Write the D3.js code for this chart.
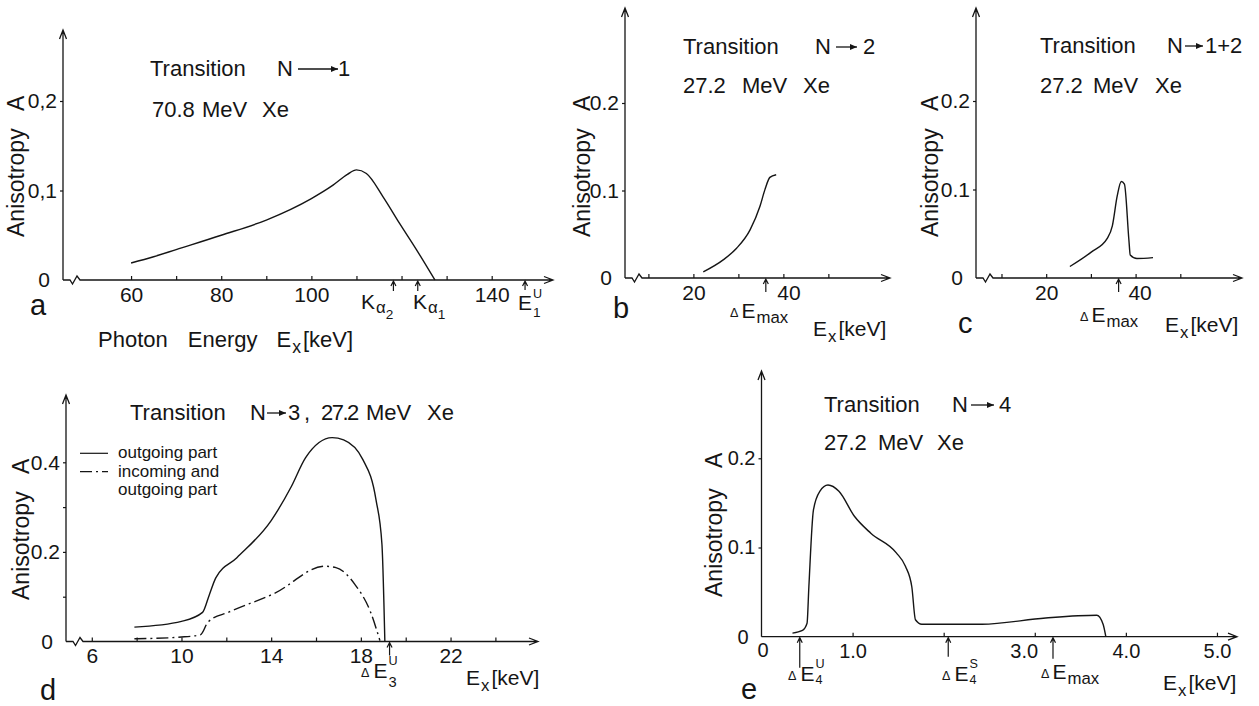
<!DOCTYPE html>
<html>
<head>
<meta charset="utf-8">
<script src="https://cdn.jsdelivr.net/npm/d3@7"></script>
<style>
  body { margin: 0; background: #fff; }
  svg { display: block; }
  text { font-family: "Liberation Sans", Arial, sans-serif; fill: #151515; }
</style>
</head>
<body>
<div id="chart"></div>
<script>
// values (anisotropy A vs photon energy Ex in keV)

// a: transition N -> 1, 70.8 MeV Xe
const aEnergy = [60, 65, 70, 80, 90, 100, 104.8, 108, 110, 112.2, 115.9, 119.6, 123.3, 127.4];
const aAniso  = [0.019, 0.026, 0.034, 0.050, 0.067, 0.091, 0.106, 0.118, 0.123, 0.119, 0.093, 0.063, 0.034, 0];
const aTicksX = [60, 70, 80, 90, 100, 110, 120, 130, 140];
const aTickLabelsX = ["60", "", "80", "", "100", "", "", "", "140"];
const aTicksY = [0, 0.1, 0.2];
const aTickLabelsY = ["0", "0,1", "0,2"];
const aMarks = [118.2, 123.6, 147.4];   // K alpha2, K alpha1, E1U

// b: transition N -> 2, 27.2 MeV Xe
const bEnergy = [22.2, 26.7, 29.6, 32.6, 34.8, 35.9, 37.0, 38.4];
const bAniso  = [0.007, 0.021, 0.034, 0.055, 0.082, 0.101, 0.115, 0.118];
const bTicksX = [10, 20, 30, 40, 50];
const bTickLabelsX = ["", "20", "", "40", ""];
const bTicksY = [0, 0.1, 0.2];
const bTickLabelsY = ["0", "0.1", "0.2"];
const bMarks = [36.1];                  // dE max

// c: transition N -> 1+2, 27.2 MeV Xe
const cEnergy = [25.3, 30.0, 33.7, 34.8, 35.9, 36.8, 37.5, 38.5, 38.8, 40.3, 43.9];
const cAniso  = [0.013, 0.029, 0.045, 0.059, 0.093, 0.109, 0.106, 0.043, 0.026, 0.022, 0.023];
const cTicksX = [10, 20, 30, 40, 50];
const cTickLabelsX = ["", "20", "", "40", ""];
const cTicksY = [0, 0.1, 0.2];
const cTickLabelsY = ["0", "0.1", "0.2"];
const cMarks = [36.2];

// d: transition N -> 3, 27.2 MeV Xe
const dEnergy = [7.9, 10.0, 10.94, 11.24, 11.53, 12.47, 14.0, 14.9, 15.53, 16.72, 17.23, 18.09, 18.68, 18.94, 19.07];
const dOutgoing = [0.032, 0.045, 0.065, 0.104, 0.142, 0.187, 0.27, 0.346, 0.41, 0.455, 0.45, 0.406, 0.315, 0.217, 0];
const dEnergyIn = [7.9, 10.0, 10.85, 11.19, 12.13, 14.17, 16.38, 16.89, 17.74, 18.43, 18.85];
const dInOut    = [0.006, 0.010, 0.015, 0.044, 0.066, 0.108, 0.168, 0.165, 0.127, 0.066, 0.002];
const dTicksX = [6, 8, 10, 12, 14, 16, 18, 20, 22, 24];
const dTickLabelsX = ["6", "", "10", "", "14", "", "18", "", "22", ""];
const dTicksY = [0, 0.1, 0.2, 0.3, 0.4];
const dTickLabelsY = ["0", "", "0.2", "", "0.4"];
const dMarks = [19.28];

// e: transition N -> 4, 27.2 MeV Xe
const eEnergy = [0.34, 0.45, 0.50, 0.52, 0.57, 0.64, 0.73, 0.85, 1.02, 1.20, 1.48, 1.58, 1.65, 1.69, 1.76, 2.42, 3.12, 3.68, 3.75, 3.78];
const eAniso  = [0.004, 0.007, 0.015, 0.056, 0.142, 0.163, 0.170, 0.163, 0.135, 0.116, 0.094, 0.079, 0.056, 0.019, 0.014, 0.014, 0.021, 0.024, 0.014, 0];
const eTicksX = [1, 2, 3, 4, 5];
const eTickLabelsX = ["1.0", "", "3.0", "4.0", "5.0"];
const eTicksY = [0, 0.1, 0.2];
const eTickLabelsY = ["0", "0.1", "0.2"];
const eMarks = [0.42, 2.05, 3.20];

const INK = "#151515";
const svg = d3.select("#chart").append("svg").attr("width", 1259).attr("height", 706);

// text made of pieces: sub/superscripts via dy, keep = do not advance
function rich(g, x, y, parts, size) {
  let cx = x;
  parts.forEach(p => {
    const pos = cx + (p.gap || 0);
    const t = g.append("text").attr("x", pos).attr("y", y + (p.dy || 0))
      .attr("font-size", size * (p.s || 1)).text(p.t);
    if (!p.keep) cx = pos + t.node().getComputedTextLength();
  });
}

function arrowRight(g, x1, x2, y) {
  g.append("path").attr("d", `M${x1},${y}H${x2}`).attr("stroke", INK).attr("stroke-width", 1.3);
  g.append("path").attr("d", `M${x2 - 7},${y - 3}L${x2},${y}L${x2 - 7},${y + 3}Z`).attr("fill", INK);
}

function drawPanel(p) {
  const g = svg.append("g");
  const x = d3.scaleLinear().domain(p.xDomain).range(p.xRange);
  const y = d3.scaleLinear().domain([0, 0.1]).range([p.y0, p.y0 - p.unit]);
  const x0 = p.xRange[0], x1 = p.xRange[1];

  // x axis: ticks pointing up, labels below
  const ax = g.append("g").attr("transform", `translate(0,${p.y0})`)
    .call(d3.axisBottom(x).tickValues(p.ticksX)
      .tickFormat((d, i) => p.labelsX[i]).tickSize(-4).tickPadding(7));
  ax.select(".domain").remove();
  ax.selectAll(".tick line").attr("stroke", INK).attr("stroke-width", 1.2);
  ax.selectAll(".tick text").attr("font-size", p.tickFs).attr("fill", INK)
    .attr("font-family", null)
    .attr("dx", d => (p.shiftX && p.shiftX[d]) || 0);

  // y axis: ticks pointing left
  const ay = g.append("g").attr("transform", `translate(${x0},0)`)
    .call(d3.axisLeft(y).tickValues(p.ticksY)
      .tickFormat((d, i) => p.labelsY[i]).tickSize(3).tickPadding(3));
  ay.select(".domain").remove();
  ay.selectAll(".tick line").attr("stroke", INK).attr("stroke-width", 1.2)
    .attr("display", d => d === 0 ? "none" : null);
  ay.selectAll(".tick text").attr("font-size", p.tickFs).attr("fill", INK)
    .attr("font-family", null)
    .attr("dx", d => d === 0 ? -7 : 0);

  // axis lines with break and open arrowheads
  const zig = p.zig ? `h7l2.5,4l4.5,-8l3,4` : "";
  g.append("path").attr("fill", "none").attr("stroke", INK).attr("stroke-width", 1.3)
    .attr("d", `M${x0},${p.y0}${zig}H${x1}M${x1 - 9},${p.y0 - 3.5}L${x1},${p.y0}L${x1 - 9},${p.y0 + 3.5}` +
      `M${x0},${p.y0}V${p.yTop}M${x0 - 3.5},${p.yTop + 9}L${x0},${p.yTop}L${x0 + 3.5},${p.yTop + 9}`);

  // curves
  p.curves.forEach(c => {
    const line = d3.line().x(d => x(d[0])).y(d => y(d[1])).curve(d3.curveMonotoneX);
    g.append("path").datum(d3.zip(c.xs, c.ys)).attr("fill", "none")
      .attr("stroke", INK).attr("stroke-width", 1.4)
      .attr("stroke-dasharray", c.dash || null).attr("d", line);
  });

  // marker arrows below the axis
  p.marks.forEach((m, i) => {
    const mx = x(m), len = p.markLen[i];
    g.append("path").attr("fill", "none").attr("stroke", INK).attr("stroke-width", 1.2)
      .attr("d", `M${mx},${p.y0 + len}V${p.y0 + 1}M${mx - 2.5},${p.y0 + 6}L${mx},${p.y0 + 1}L${mx + 2.5},${p.y0 + 6}`);
  });

  // y title
  p.yTitle.forEach(t => {
    g.append("text").attr("transform", `translate(${p.yTitleX},${t[1]}) rotate(-90)`)
      .attr("dy", "0.36em").attr("font-size", 23).text(t[0]);
  });

  // title lines
  p.title.forEach(t => {
    if (t.arrow) arrowRight(g, t.arrow[0], t.arrow[1], t.y - 7);
    else g.append("text").attr("x", t.x).attr("y", t.y).attr("font-size", 22)
      .attr("letter-spacing", t.ls || null).text(t.t);
  });

  p.rich.forEach(r => rich(g, r.x, r.y, r.parts, r.fs || 21));

  g.append("text").attr("x", p.letter[0]).attr("y", p.letter[1]).attr("font-size", 29).text(p.letter[2]);
}

const exKeV = [{ t: "E" }, { t: "x", s: 0.8, dy: 6, gap: 1 }, { t: "[keV]", gap: 2 }];
const dEmax = [{ t: "Δ", s: 0.6, dy: -1 }, { t: "E", gap: 3 }, { t: "max", s: 0.8, dy: 5, gap: 1 }];

drawPanel({
  xDomain: [44.9, 153.6], xRange: [63, 553], y0: 280, unit: 89.5, yTop: 30, zig: true,
  ticksX: aTicksX, labelsX: aTickLabelsX, ticksY: aTicksY, labelsY: aTickLabelsY, tickFs: 21,
  curves: [{ xs: aEnergy, ys: aAniso }],
  marks: aMarks, markLen: [11, 11, 10],
  yTitleX: 16, yTitle: [["Anisotropy", 237], ["A", 111]],
  title: [{ t: "Transition", x: 150, y: 76 }, { t: "N", x: 277, y: 76 }, { arrow: [298, 338], y: 76 },
          { t: "1", x: 338, y: 76 },
          { t: "70.8", x: 152, y: 117 }, { t: "MeV", x: 202, y: 117 }, { t: "Xe", x: 262, y: 117 }],
  rich: [
    { x: 361, y: 309, parts: [{ t: "K" }, { t: "α", s: 0.8, dy: 4, gap: 1 }, { t: "2", s: 0.65, dy: 10 }] },
    { x: 413, y: 309, parts: [{ t: "K" }, { t: "α", s: 0.8, dy: 4, gap: 1 }, { t: "1", s: 0.65, dy: 10 }] },
    { x: 518, y: 310, parts: [{ t: "E" }, { t: "1", s: 0.65, dy: 7, keep: true, gap: 1 }, { t: "U", s: 0.6, dy: -12, gap: 1 }] },
    { x: 98, y: 347, fs: 22, parts: [{ t: "Photon" }, { t: "Energy", gap: 20 }, { t: "E", gap: 19 }, { t: "x", s: 0.8, dy: 6, gap: 1 }, { t: "[keV]", gap: 2 }] }
  ],
  letter: [30, 315, "a"]
});

drawPanel({
  xDomain: [4.8, 63.7], xRange: [625, 890], y0: 278, unit: 87.5, yTop: 8, zig: true,
  ticksX: bTicksX, labelsX: bTickLabelsX, ticksY: bTicksY, labelsY: bTickLabelsY, tickFs: 21,
  shiftX: { 40: 5 },
  curves: [{ xs: bEnergy, ys: bAniso }],
  marks: bMarks, markLen: [14],
  yTitleX: 582, yTitle: [["Anisotropy", 237], ["A", 111]],
  title: [{ t: "Transition", x: 683, y: 54 }, { t: "N", x: 815, y: 54 }, { arrow: [836, 857], y: 54 },
          { t: "2", x: 863, y: 54 },
          { t: "27.2", x: 683, y: 93 }, { t: "MeV", x: 742, y: 93 }, { t: "Xe", x: 803, y: 93 }],
  rich: [{ x: 730, y: 318, parts: dEmax }, { x: 813, y: 336, parts: exKeV }],
  letter: [613, 318, "b"]
});

drawPanel({
  xDomain: [4.3, 63.8], xRange: [976, 1242], y0: 278, unit: 88.5, yTop: 8, zig: true,
  ticksX: cTicksX, labelsX: cTickLabelsX, ticksY: cTicksY, labelsY: cTickLabelsY, tickFs: 21,
  shiftX: { 40: 4 },
  curves: [{ xs: cEnergy, ys: cAniso }],
  marks: cMarks, markLen: [14],
  yTitleX: 930, yTitle: [["Anisotropy", 237], ["A", 111]],
  title: [{ t: "Transition", x: 1040, y: 53 }, { t: "N", x: 1167, y: 53 }, { arrow: [1185, 1203], y: 53 },
          { t: "1+2", x: 1205, y: 53 },
          { t: "27.2", x: 1040, y: 93 }, { t: "MeV", x: 1093, y: 93 }, { t: "Xe", x: 1155, y: 93 }],
  rich: [{ x: 1080, y: 322, parts: dEmax }, { x: 1165, y: 332, parts: exKeV }],
  letter: [958, 333, "c"]
});

drawPanel({
  xDomain: [4.85, 25.9], xRange: [66, 538], y0: 641.5, unit: 44.8, yTop: 395, zig: true,
  ticksX: dTicksX, labelsX: dTickLabelsX, ticksY: dTicksY, labelsY: dTickLabelsY, tickFs: 21,
  curves: [{ xs: dEnergy, ys: dOutgoing }, { xs: dEnergyIn, ys: dInOut, dash: "12,4,2,4" }],
  marks: dMarks, markLen: [14],
  yTitleX: 21, yTitle: [["Anisotropy", 600], ["A", 474]],
  title: [{ t: "Transition", x: 130, y: 420 }, { t: "N", x: 250, y: 420 }, { arrow: [267, 286], y: 420 },
          { t: "3", x: 288, y: 420 }, { t: ",", x: 304, y: 420 },
          { t: "27.2", x: 321, y: 420, ls: -1.5 }, { t: "MeV", x: 366, y: 420 }, { t: "Xe", x: 427, y: 420 }],
  rich: [
    { x: 361, y: 678, parts: [{ t: "Δ", s: 0.6, dy: -1 }, { t: "E", gap: 4 }, { t: "3", s: 0.7, dy: 9, keep: true, gap: 1 }, { t: "U", s: 0.6, dy: -13, gap: 1 }] },
    { x: 466, y: 685, parts: exKeV }
  ],
  letter: [40, 700, "d"]
});

drawPanel({
  xDomain: [0, 5.22], xRange: [761.5, 1237], y0: 636.7, unit: 89.2, yTop: 371, zig: false,
  ticksX: eTicksX, labelsX: eTickLabelsX, ticksY: eTicksY, labelsY: eTickLabelsY, tickFs: 20,
  shiftX: { 3: -11 },
  curves: [{ xs: eEnergy, ys: eAniso }],
  marks: eMarks, markLen: [31, 20, 22],
  yTitleX: 714, yTitle: [["Anisotropy", 597], ["A", 468]],
  title: [{ t: "Transition", x: 824, y: 412 }, { t: "N", x: 952, y: 412 }, { arrow: [971, 994], y: 412 },
          { t: "4", x: 999, y: 412 },
          { t: "27.2", x: 824, y: 450 }, { t: "MeV", x: 878, y: 450 }, { t: "Xe", x: 937, y: 450 }],
  rich: [
    { x: 788, y: 681, parts: [{ t: "Δ", s: 0.6, dy: -1 }, { t: "E", gap: 4 }, { t: "4", s: 0.6, dy: 3, keep: true, gap: 1 }, { t: "U", s: 0.6, dy: -13, gap: 1 }] },
    { x: 942, y: 681, parts: [{ t: "Δ", s: 0.6, dy: -1 }, { t: "E", gap: 4 }, { t: "4", s: 0.6, dy: 3, keep: true, gap: 1 }, { t: "S", s: 0.6, dy: -13, gap: 1 }] },
    { x: 1041, y: 679, parts: dEmax },
    { x: 1163, y: 690, parts: exKeV }
  ],
  letter: [741, 699, "e"]
});

// "0" label at the origin of panel e
svg.append("text").attr("x", 763).attr("y", 656.7).attr("text-anchor", "middle")
  .attr("font-size", 20).text("0");

// legend for panel d
const leg = svg.append("g");
[[453.3, null], [471.7, "12,4,2,4"]].forEach(l => {
  leg.append("line").attr("x1", 80).attr("x2", 108).attr("y1", l[0]).attr("y2", l[0])
    .attr("stroke", INK).attr("stroke-width", 1.2).attr("stroke-dasharray", l[1]);
});
[["outgoing part", 458], ["incoming and", 476.7], ["outgoing part", 495]].forEach(l => {
  leg.append("text").attr("x", 118).attr("y", l[1]).attr("font-size", 17).text(l[0]);
});
</script>
</body>
</html>
